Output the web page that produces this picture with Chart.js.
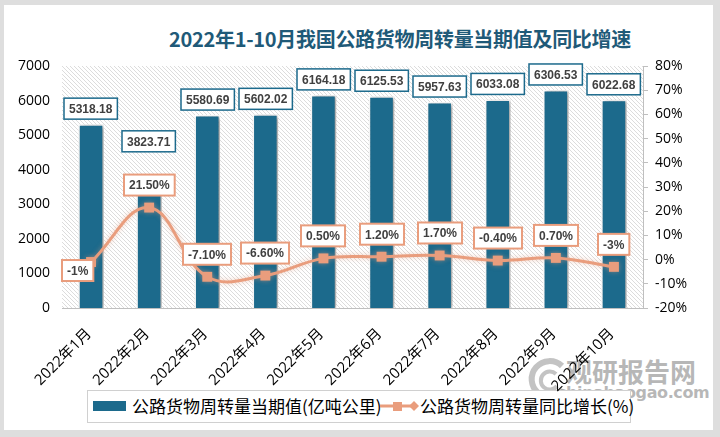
<!DOCTYPE html>
<html>
<head>
<meta charset="utf-8">
<script src="https://cdn.jsdelivr.net/npm/chart.js@4"></script>
<style>
  html, body { margin: 0; padding: 0; }
  body { width: 720px; height: 437px; background: #dedede; position: relative; overflow: hidden; }
  #card { position: absolute; left: 4px; top: 5px; width: 709px; height: 425px; background: #fff; }
  #title { position: absolute; left: 150px; top: 24px; width: 500px; text-align: center;
           font: bold 20px "Noto Sans CJK SC", sans-serif; color: #1f5a78; letter-spacing: -0.3px; }
  #wm1 { position: absolute; left: 566px; top: 352px; font: bold 26px "Noto Sans CJK SC", sans-serif; color: rgba(160,160,160,0.75); }
  #wm2 { position: absolute; left: 557px; top: 383px; font: bold 16px "DejaVu Sans", sans-serif; color: rgba(160,160,160,0.75); letter-spacing: -0.4px; }
  #logo { position: absolute; left: 526px; top: 356px; }
  #wrap { position: absolute; left: 0; top: 0; width: 720px; height: 437px; }
  #legend { position: absolute; left: 87px; top: 390px; width: 542px; height: 31px; border: 1px solid #d0d0d0;
            font: 17px "Noto Sans CJK SC", sans-serif; color: #000; background: #fff; }
  #legend span { position: absolute; top: 2px; white-space: nowrap; line-height: 26px; }
</style>
</head>
<body>
<div id="card"></div>
<svg id="logo" width="42" height="46">
  <path d="M36 10 A18 18 0 1 0 38 34" fill="none" stroke="rgba(170,170,170,0.7)" stroke-width="6"/>
  <path d="M30 18 A9 9 0 1 0 31 30" fill="none" stroke="rgba(170,170,170,0.7)" stroke-width="4"/>
</svg>
<div id="wm1">观研报告网</div>
<div id="wm2">chinabaogao.com</div>
<div id="title">2022年1-10月我国公路货物周转量当期值及同比增速</div>
<div id="legend">
  <svg style="position:absolute;left:5px;top:10px" width="34" height="11"><rect x="0" y="0" width="33" height="10" fill="#1c6a8c"/></svg>
  <span style="left:44px">公路货物周转量当期值(亿吨公里)</span>
  <svg style="position:absolute;left:292px;top:8px" width="40" height="14">
    <line x1="0" y1="7" x2="34" y2="7" stroke="#e99d7d" stroke-width="3"/>
    <rect x="13" y="3" width="9" height="9" fill="#e99d7d"/>
    <path d="M34 2 L39 7 L34 12 L29 7 Z" fill="#e99d7d"/>
  </svg>
  <span style="left:332px">公路货物周转量同比增长(%)</span>
</div>
<div id="wrap"><canvas id="chart" width="720" height="437"></canvas></div>
<script>
const months = ['2022年1月', '2022年2月', '2022年3月', '2022年4月', '2022年5月',
                '2022年6月', '2022年7月', '2022年8月', '2022年9月', '2022年10月'];
const volume = [5318.18, 3823.71, 5580.69, 5602.02, 6164.18, 6125.53, 5957.63, 6033.08, 6306.53, 6022.68];
const growth = [-1, 21.5, -7.1, -6.6, 0.5, 1.2, 1.7, -0.4, 0.7, -3];
const growthText = ['-1%', '21.50%', '-7.10%', '-6.60%', '0.50%', '1.20%', '1.70%', '-0.40%', '0.70%', '-3%'];

const teal = '#1c6a8c';
const orange = '#e99d7d';
const tickFont = { family: '"Open Sans", "Noto Sans CJK SC", sans-serif', size: 14 };

// diagonal hatch for the plot area
function hatch() {
  const c = document.createElement('canvas');
  c.width = 4; c.height = 4;
  const g = c.getContext('2d');
  g.fillStyle = '#ffffff';
  g.fillRect(0, 0, 4, 4);
  g.strokeStyle = '#dcdcdc';
  g.lineWidth = 1;
  g.beginPath();
  g.moveTo(-1, -1); g.lineTo(5, 5);
  g.stroke();
  return g.createPattern(c, 'repeat');
}

const plotBg = {
  id: 'plotBg',
  beforeDatasetsDraw(chart) {
    const a = chart.chartArea, ctx = chart.ctx;
    ctx.save();
    ctx.fillStyle = hatch();
    ctx.fillRect(a.left, a.top, a.right - a.left, a.bottom - a.top);
    ctx.restore();
  },
  beforeDatasetDraw(chart, args) {
    const ctx = chart.ctx;
    ctx.save();
    if (args.index === 0) {
      ctx.shadowColor = 'rgba(0,0,0,0.4)';
      ctx.shadowBlur = 4;
      ctx.shadowOffsetX = 2;
      ctx.shadowOffsetY = 1;
    } else {
      ctx.shadowColor = 'rgba(233,157,125,0.5)';
      ctx.shadowBlur = 5;
    }
  },
  afterDatasetDraw(chart) {
    chart.ctx.restore();
  }
};

function box(ctx, text, cx, top, border, lw) {
  ctx.font = 'bold 12px "Liberation Sans", sans-serif';
  const w = ctx.measureText(text).width + 10;
  const h = 21;
  const x = Math.round(cx - w / 2);
  ctx.fillStyle = '#ffffff';
  ctx.fillRect(x, top, w, h);
  ctx.strokeStyle = border;
  ctx.lineWidth = lw;
  ctx.strokeRect(x, top, w, h);
  ctx.fillStyle = '#404040';
  ctx.textAlign = 'center';
  ctx.textBaseline = 'middle';
  ctx.fillText(text, x + w / 2, top + h / 2 + 1);
  return w;
}

const dataLabels = {
  id: 'dataLabels',
  afterDatasetsDraw(chart) {
    const ctx = chart.ctx;
    ctx.save();
    chart.getDatasetMeta(0).data.forEach((el, i) => {
      const gap = i === 1 ? 24 : 5;
      box(ctx, volume[i].toFixed(2), el.x, el.y - gap - 21, teal, 1.5);
    });
    chart.getDatasetMeta(1).data.forEach((pt, i) => {
      if (i === 0) {
        ctx.font = 'bold 12px "Liberation Sans", sans-serif';
        const w = ctx.measureText(growthText[i]).width + 10;
        box(ctx, growthText[i], pt.x + 2 - w / 2, pt.y - 2, orange, 2);
      } else {
        box(ctx, growthText[i], pt.x, pt.y - 12 - 21, orange, 2);
      }
    });
    ctx.restore();
  }
};

new Chart(document.getElementById('chart'), {
  type: 'bar',
  data: {
    labels: months,
    datasets: [
      {
        type: 'bar',
        label: '公路货物周转量当期值(亿吨公里)',
        data: volume,
        yAxisID: 'y',
        backgroundColor: teal,
        borderColor: '#ffffff',
        borderWidth: 1.5,
        barPercentage: 0.44,
        categoryPercentage: 1,
        order: 1
      },
      {
        type: 'line',
        label: '公路货物周转量同比增长(%)',
        data: growth,
        yAxisID: 'y1',
        borderColor: orange,
        backgroundColor: orange,
        borderWidth: 3,
        tension: 0.4,
        pointStyle: 'rect',
        pointRadius: 7,
        pointBorderWidth: 0,
        order: 0
      }
    ]
  },
  options: {
    responsive: false,
    animation: false,
    layout: { padding: { top: 66, left: 0, right: 0, bottom: 0 } },
    plugins: {
      legend: { display: false },
      tooltip: { enabled: false },
      title: { display: false }
    },
    scales: {
      x: {
        grid: { display: false, drawTicks: false },
        border: { display: true, color: '#bfbfbf', width: 1 },
        ticks: { font: { family: tickFont.family, size: 15 }, color: '#000', maxRotation: 45, minRotation: 45,
                 autoSkip: false, padding: 17, labelOffset: -2 },
        afterFit(s) { s.height = 129; }
      },
      y: {
        position: 'left',
        min: 0, max: 7000,
        grid: { display: false, drawTicks: false },
        border: { display: false },
        ticks: { stepSize: 1000, font: tickFont, color: '#000', padding: 12,
                 callback: v => String(v) },
        afterFit(s) { s.width = 62; }
      },
      y1: {
        position: 'right',
        min: -20, max: 80,
        grid: { drawOnChartArea: false, color: '#bfbfbf', tickLength: 5 },
        border: { display: true, color: '#bfbfbf', width: 1 },
        ticks: { stepSize: 10, font: tickFont, color: '#000', padding: 7,
                 callback: v => v + '%' },
        afterFit(s) { s.width = 77; }
      }
    }
  },
  plugins: [plotBg, dataLabels]
});
</script>
</body>
</html>
